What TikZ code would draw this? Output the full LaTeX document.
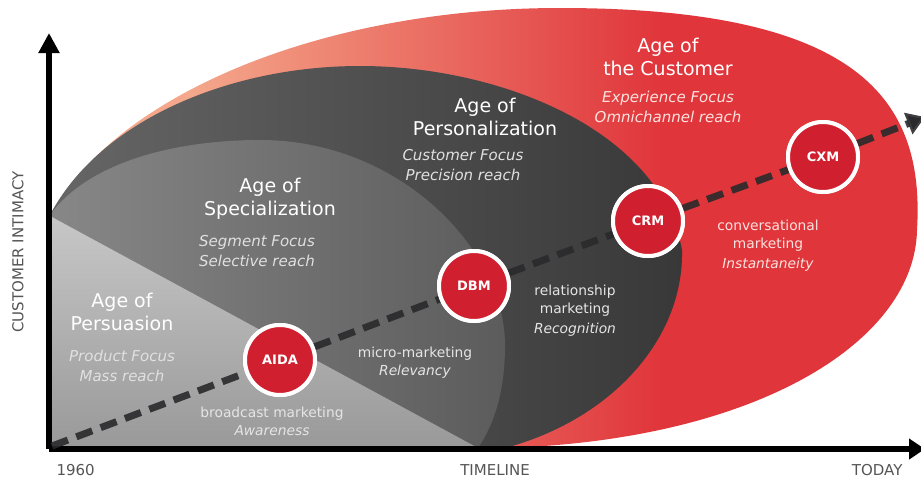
\documentclass[tikz,border=0pt]{standalone}
\usepackage{fontspec}
\setmainfont{DejaVu Sans}
\usetikzlibrary{arrows.meta}

\definecolor{agered}{HTML}{E0353B}
\definecolor{agesalmon}{HTML}{F4A78B}
\definecolor{circred}{HTML}{D01F2E}
\definecolor{trendgrey}{HTML}{2A2A2C}
\definecolor{axistext}{HTML}{555555}
\definecolor{pinktext}{HTML}{FBE2DE}

\pgfdeclarehorizontalshading{customershade}{100bp}{color(0bp)=(agesalmon); color(33bp)=(agesalmon); color(60bp)=(agered); color(100bp)=(agered)}

\begin{document}
\begin{tikzpicture}[x=1pt, y=-1pt,
    heading/.style={text=white, font=\fontsize{19}{23}\selectfont, align=center},
    focus/.style={text=white!88!black, font=\itshape\fontsize{15}{20}\selectfont, align=center},
    tactic/.style={text=white!90!black, font=\fontsize{13.8}{18}\selectfont, align=center},
    era/.style={circle, fill=circred, draw=white, line width=4pt, minimum size=70pt, inner sep=0pt,
                text=white, font=\bfseries\fontsize{13}{15}\selectfont},
    trend/.style={draw=trendgrey, draw opacity=0.9, line width=7pt, dash pattern=on 17pt off 9pt},
    axislabel/.style={text=axistext, font=\fontsize{15}{18}\selectfont}]

    \useasboundingbox (0,0) rectangle (921,480);

    % age of the customer
    \shade[shading=customershade] (50,215) .. controls (120,90) and (330,8) .. (560,8)
        .. controls (860,8) and (925,100) .. (917,230)
        .. controls (915,340) and (760,440) .. (505,448) -- (50,448) -- cycle;
    % age of personalization
    \shade[left color=black!60, right color=black!78] (50,215) .. controls (100,120) and (230,66) .. (360,66)
        .. controls (500,66) and (660,130) .. (682,250)
        .. controls (684,340) and (610,420) .. (505,448) -- (50,448) -- cycle;
    % age of specialization
    \shade[left color=black!47, right color=black!64] (50,215) .. controls (90,160) and (180,140) .. (260,140)
        .. controls (400,140) and (505,250) .. (505,345)
        .. controls (505,400) and (490,430) .. (478,448) -- (50,448) -- cycle;
    % age of persuasion
    \shade[top color=black!22, bottom color=black!40] (50,216) -- (478,448) -- (50,448) -- cycle;

    % axes
    \coordinate (origin) at (49,449);
    \coordinate (ytip) at (49,33);
    \coordinate (xtip) at (925,449);
    \draw[line width=6pt, -{Triangle[length=20pt, width=20pt]}] (origin) -- (ytip);
    \draw[line width=6pt, -{Triangle[length=16pt, width=20pt]}] (origin) -- (xtip);

    % trend line and eras
    \node[era] (aida) at (280,360) {AIDA};
    \node[era] (dbm) at (474,286) {DBM};
    \node[era] (crm) at (648,221) {CRM};
    \node[era] (cxm) at (823,157) {CXM};
    \coordinate (start) at (52,446);
    \coordinate (trendtip) at (925,117);

    \draw[trend] (start) -- (aida);
    \draw[trend] (aida) -- (dbm);
    \draw[trend] (dbm) -- (crm);
    \draw[trend] (crm) -- (cxm);
    \draw[trend, -{Triangle[length=18pt, width=22pt]}] (cxm) -- (trendtip);

    % redraw circles on top
    \node[era] at (aida) {AIDA};
    \node[era] at (dbm) {DBM};
    \node[era] at (crm) {CRM};
    \node[era] at (cxm) {CXM};

    % ages
    \node[heading] (persuasion) at (122,312) {Age of\\Persuasion};
    \node[focus] (persuasionfocus) at (122,366) {Product Focus\\Mass reach};
    \node[heading] (specialization) at (270,199) {Age of\\Specialization};
    \node[focus] (specializationfocus) at (257,251) {Segment Focus\\Selective reach};
    \node[heading] (personalization) at (485,117) {Age of\\Personalization};
    \node[focus] (personalizationfocus) at (463,165) {Customer Focus\\Precision reach};
    \node[heading] (customer) at (668,57) {Age of\\the Customer};
    \node[focus, text=pinktext] (customerfocus) at (668,107) {Experience Focus\\Omnichannel reach};

    % tactics
    \node[tactic] (broadcast) at (272,421) {broadcast marketing\\\textit{Awareness}};
    \node[tactic] (micro) at (415,363) {micro-marketing\\\textit{Relevancy}};
    \node[tactic] (relationship) at (575,311) {relationship\\marketing\\[2pt]\textit{Recognition}};
    \node[tactic, text=pinktext] (conversational) at (768,246) {conversational\\marketing\\[2pt]\textit{Instantaneity}};

    % axis labels
    \node[axislabel, anchor=west] (year) at (53,470) {1960};
    \node[axislabel] (timeline) at (495,470) {TIMELINE};
    \node[axislabel, anchor=east] (today) at (906,470) {TODAY};
    \node[axislabel, rotate=90] (intimacy) at (18,252) {CUSTOMER INTIMACY};
\end{tikzpicture}
\end{document}
